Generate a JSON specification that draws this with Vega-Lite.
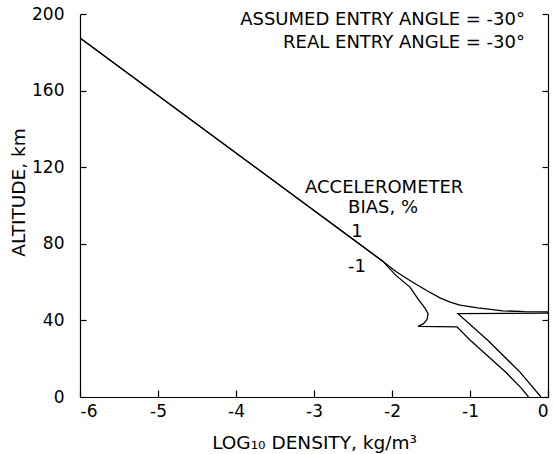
{
  "$schema": "https://vega.github.io/schema/vega-lite/v6.json",
  "width": 468,
  "height": 383,
  "autosize": {"type": "none"},
  "padding": {"left": 80, "top": 14, "right": 5, "bottom": 57},
  "background": "white",
  "config": {
    "view": {"stroke": null},
    "font": "DejaVu Sans",
    "axis": {
      "domainColor": "black",
      "domainWidth": 1.2,
      "tickColor": "black",
      "tickWidth": 1.2,
      "grid": false,
      "labelColor": "black",
      "labelFont": "DejaVu Sans",
      "labelFontSize": 17,
      "titleColor": "black",
      "titleFont": "DejaVu Sans",
      "titleFontSize": 18.5,
      "titleFontWeight": "normal"
    },
    "text": {"font": "DejaVu Sans", "fontSize": 18, "color": "black"}
  },
  "datasets": {
    "curves": [
      {"bias": "1", "step": 1, "x": -6.0, "alt": 187.5},
      {"bias": "1", "step": 2, "x": -2.115, "alt": 70.8},
      {"bias": "1", "step": 3, "x": -1.95, "alt": 65.5},
      {"bias": "1", "step": 4, "x": -1.75, "alt": 60.3},
      {"bias": "1", "step": 5, "x": -1.55, "alt": 55.5},
      {"bias": "1", "step": 6, "x": -1.385, "alt": 51.8},
      {"bias": "1", "step": 7, "x": -1.256, "alt": 49.6},
      {"bias": "1", "step": 8, "x": -1.128, "alt": 48.0},
      {"bias": "1", "step": 9, "x": -0.9, "alt": 46.5},
      {"bias": "1", "step": 10, "x": -0.577, "alt": 45.0},
      {"bias": "1", "step": 11, "x": -0.3, "alt": 44.6},
      {"bias": "1", "step": 12, "x": 0.0, "alt": 44.5},
      {"bias": "1", "step": 13, "x": 0.0, "alt": 43.8},
      {"bias": "1", "step": 14, "x": -1.154, "alt": 43.5},
      {"bias": "1", "step": 15, "x": -0.769, "alt": 29.5},
      {"bias": "1", "step": 16, "x": -0.359, "alt": 13.0},
      {"bias": "1", "step": 17, "x": -0.09, "alt": 0.0},
      {"bias": "-1", "step": 1, "x": -6.0, "alt": 187.5},
      {"bias": "-1", "step": 2, "x": -2.115, "alt": 70.8},
      {"bias": "-1", "step": 3, "x": -1.95, "alt": 63.5},
      {"bias": "-1", "step": 4, "x": -1.77, "alt": 57.4},
      {"bias": "-1", "step": 5, "x": -1.667, "alt": 51.2},
      {"bias": "-1", "step": 6, "x": -1.58, "alt": 46.5},
      {"bias": "-1", "step": 7, "x": -1.538, "alt": 43.6},
      {"bias": "-1", "step": 8, "x": -1.55, "alt": 40.5},
      {"bias": "-1", "step": 9, "x": -1.6, "alt": 38.2},
      {"bias": "-1", "step": 10, "x": -1.667, "alt": 36.9},
      {"bias": "-1", "step": 11, "x": -1.167, "alt": 36.6},
      {"bias": "-1", "step": 12, "x": -1.0, "alt": 29.8},
      {"bias": "-1", "step": 13, "x": -0.53, "alt": 12.5},
      {"bias": "-1", "step": 14, "x": -0.34, "alt": 4.5},
      {"bias": "-1", "step": 15, "x": -0.25, "alt": 0.0}
    ],
    "notes": [
      {"x": -0.295, "alt": 196.9, "label": "ASSUMED ENTRY ANGLE = -30°"},
      {"x": -0.295, "alt": 184.8, "label": "REAL ENTRY ANGLE = -30°"}
    ],
    "tags": [
      {"x": -2.1, "alt": 109.1, "label": "ACCELEROMETER"},
      {"x": -2.115, "alt": 98.7, "label": "BIAS, %"},
      {"x": -2.45, "alt": 86.2, "label": "1"},
      {"x": -2.45, "alt": 67.9, "label": "-1"}
    ]
  },
  "layer": [
    {
      "data": {"name": "curves"},
      "mark": {"type": "line", "stroke": "black", "strokeWidth": 1.3, "clip": true},
      "encoding": {
        "x": {
          "field": "x",
          "type": "quantitative",
          "scale": {"domain": [-6, 0], "nice": false, "zero": false},
          "axis": {
            "title": "LOG₁₀ DENSITY, kg/m³",
            "values": [-6, -5, -4, -3, -2, -1, 0],
            "labelExpr": "'' + datum.value",
            "tickSize": -7,
            "labelPadding": 13,
            "titlePadding": 14
          }
        },
        "y": {
          "field": "alt",
          "type": "quantitative",
          "scale": {"domain": [0, 200], "nice": false},
          "axis": {
            "orient": "left",
            "title": "ALTITUDE, km",
            "values": [0, 40, 80, 120, 160, 200],
            "tickSize": -6,
            "labelPadding": 22,
            "titlePadding": 3,
            "titleY": 178
          }
        },
        "detail": {"field": "bias"},
        "order": {"field": "step", "type": "quantitative"}
      }
    },
    {
      "data": {"name": "notes"},
      "mark": {"type": "text", "align": "right", "baseline": "middle"},
      "encoding": {
        "x": {"field": "x", "type": "quantitative"},
        "y": {
          "field": "alt",
          "type": "quantitative",
          "axis": {
            "orient": "right",
            "title": null,
            "labels": false,
            "values": [0, 40, 80, 120, 160, 200],
            "tickSize": -6
          }
        },
        "text": {"field": "label"}
      }
    },
    {
      "data": {"name": "tags"},
      "mark": {"type": "text", "align": "center", "baseline": "middle"},
      "encoding": {
        "x": {"field": "x", "type": "quantitative"},
        "y": {"field": "alt", "type": "quantitative", "axis": null},
        "text": {"field": "label"}
      }
    }
  ],
  "resolve": {"axis": {"y": "independent"}}
}
